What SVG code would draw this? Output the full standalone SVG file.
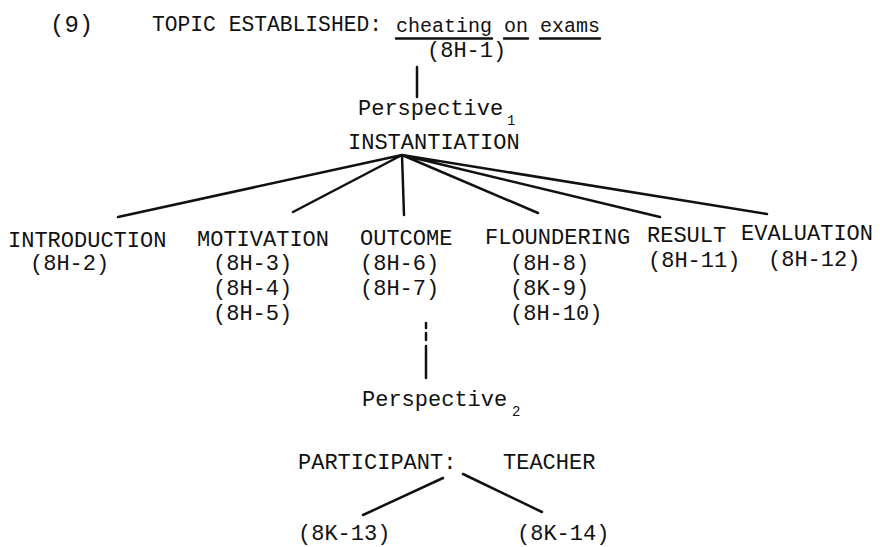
<svg xmlns="http://www.w3.org/2000/svg" width="880" height="547" viewBox="0 0 880 547">
<style>
text{font-family:"Liberation Mono","DejaVu Sans Mono",monospace;fill:#111;font-size:22px}
.sub{font-size:14px}
.c{font-size:20px}
.ln{stroke:#111;stroke-width:2.5;fill:none;stroke-linecap:round}
</style>
<rect width="880" height="547" fill="#fff"/>
<g id="topic">
<text x="50" y="32" style="font-size:24px">(9)</text>
<text x="152" y="31" textLength="230" lengthAdjust="spacingAndGlyphs">TOPIC ESTABLISHED:</text>
<text x="396" y="32" class="c">cheating on exams</text>
<path class="ln" d="M396 38.5H492M504 38.5H528M540 38.5H600" stroke-width="1.5"/>
<text x="427" y="57">(8H-1)</text>
</g>
<g id="perspective1">
<text x="358" y="115">Perspective</text>
<text x="507" y="125" class="sub">1</text>
</g>
<g id="instantiation"><text x="348" y="149">INSTANTIATION</text></g>
<g id="introduction"><text x="8" y="247">INTRODUCTION</text><text x="30" y="270">(8H-2)</text></g>
<g id="motivation"><text x="197" y="246">MOTIVATION</text><text x="213" y="270">(8H-3)</text><text x="213" y="295">(8H-4)</text><text x="213" y="320">(8H-5)</text></g>
<g id="outcome"><text x="360" y="245">OUTCOME</text><text x="360" y="270">(8H-6)</text><text x="360" y="295">(8H-7)</text></g>
<g id="floundering"><text x="485" y="244">FLOUNDERING</text><text x="510" y="270">(8H-8)</text><text x="510" y="295">(8K-9)</text><text x="510" y="320">(8H-10)</text></g>
<g id="result"><text x="647" y="242">RESULT</text><text x="648" y="267">(8H-11)</text></g>
<g id="evaluation"><text x="741" y="240">EVALUATION</text><text x="768" y="266">(8H-12)</text></g>
<g id="perspective2"><text x="362" y="406">Perspective</text><text x="512" y="416" class="sub">2</text></g>
<g id="participant"><text x="298" y="469">PARTICIPANT:</text><text x="503" y="469">TEACHER</text></g>
<g id="k13"><text x="298" y="540">(8K-13)</text></g>
<g id="k14"><text x="517" y="540">(8K-14)</text></g>
<g id="connectors">
<path class="ln" d="M417 67V97"/>
<path class="ln" d="M402 155L118 217M402 155L293 212M402 155L404 215M402 155L538 213M402 155L660 217M402 155L767 214"/>
<path class="ln" d="M426 323V328M426 333V340M426 346V378"/>
<path class="ln" d="M443 478L363 515M463 474L542 512"/>
</g>
</svg>
